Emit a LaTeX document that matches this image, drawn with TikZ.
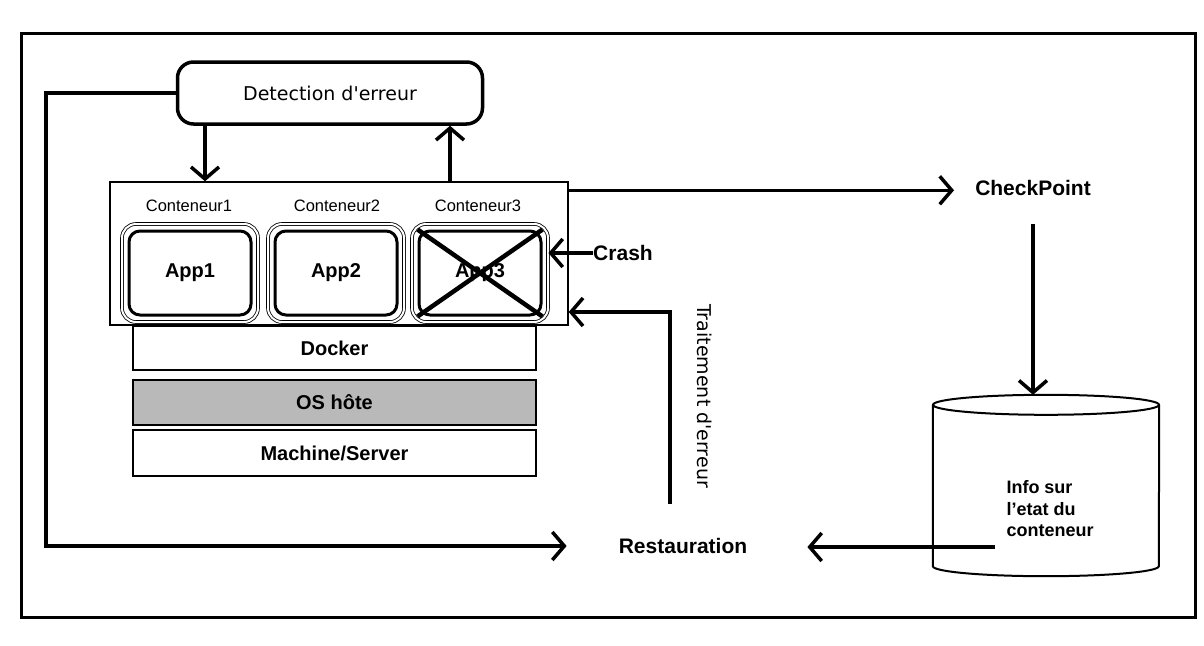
\documentclass[tikz,border=0pt]{standalone}
\usepackage{fontspec}
\setmainfont{Liberation Sans}
\newfontfamily\dvsans{DejaVu Sans}
\usetikzlibrary{arrows.meta}
\begin{document}
\begin{tikzpicture}[x=1pt,y=-1pt,
  conn/.style={line width=3.5pt,-{Straight Barb[length=12pt,width=28pt]}},
  boldlbl/.style={inner sep=0pt,font=\bfseries\fontsize{21}{25}\selectfont},
  contlbl/.style={inner sep=0pt,font=\fontsize{16.5}{20}\selectfont},
  layer/.style={draw,line width=2.8pt,minimum width=403pt,inner sep=0pt,font=\bfseries\fontsize{20}{24}\selectfont},
  appouter/.style={draw,double,double distance=2pt,line width=0.8pt,rounded corners=14pt,minimum width=136pt,minimum height=98pt,inner sep=0pt},
  appinner/.style={draw,line width=3pt,rounded corners=11pt,minimum width=122pt,minimum height=84pt,inner sep=0pt,font=\bfseries\fontsize{20}{24}\selectfont},
  detbox/.style={draw,line width=3.5pt,rounded corners=16pt,minimum width=305pt,minimum height=62pt,inner sep=0pt,font=\dvsans\fontsize{19}{23}\selectfont},
  vlbl/.style={inner sep=0pt,font=\dvsans\fontsize{19}{23}\selectfont},
  cylst/.style={line width=2pt}]
\useasboundingbox (0,0) rectangle (1204,645);
% outer frame
\draw[line width=3pt] (21,33) rectangle (1195,617);

% layers
\node[layer,minimum height=44pt] (docker) at (334.5,348) {Docker};
\node[layer,minimum height=45pt,fill=gray!55] (os) at (334.5,402.5) {OS hôte};
\node[layer,minimum height=46pt] (machine) at (334.5,453) {Machine/Server};

% container group
\node[draw,line width=1.4pt,fill=white,minimum width=458pt,minimum height=143pt,inner sep=0pt] (cont) at (339,253.5) {};
\node[contlbl] (c1) at (189,206) {Conteneur1};
\node[contlbl] (c2) at (337,206) {Conteneur2};
\node[contlbl] (c3) at (478,206) {Conteneur3};
\node[appouter] (app1o) at (190,273) {};
\node[appinner] (app1) at (190,273) {App1};
\node[appouter] (app2o) at (336,273) {};
\node[appinner] (app2) at (336,273) {App2};
\node[appouter] (app3o) at (480,273) {};
\node[appinner] (app3) at (480,273) {App3};
\draw[line width=4.5pt] (app3.north west) -- (app3.south east);
\draw[line width=4.5pt] (app3.north east) -- (app3.south west);

% detection
\node[detbox] (det) at (330,93) {Detection d'erreur};
\draw[conn] ([xshift=-125pt]det.south) -- ([xshift=-125pt]det.south |- cont.north);
\draw[conn] ([xshift=120pt]det.south |- cont.north) -- ([xshift=120pt]det.south);

% crash
\node[boldlbl] (crash) at (623,253) {Crash};
\draw[conn] (crash.west) -- (crash.west -| app3o.east);

% restauration and loop
\node[boldlbl] (rest) at (683,546) {Restauration};
\coordinate (lc) at (46,546);
\draw[conn,shorten >=52pt] (det.west) -| (lc) -- (lc -| rest.west);

% traitement d'erreur
\coordinate (tstart) at (670,504);
\coordinate (tcorner) at (670,312);
\draw[conn] (tstart) -- (tcorner) -- (tcorner -| cont.east);
\node[vlbl,rotate=-90] (trait) at (705,396) {Traitement d'erreur};

% checkpoint
\node[boldlbl] (cp) at (1033,188) {CheckPoint};
\coordinate (cpstart) at ([yshift=-9pt]cont.north east);
\draw[conn,shorten >=21pt] (cpstart) -- (cpstart -| cp.west);

% storage (cylinder)
\node[minimum width=226pt,minimum height=181pt,inner sep=0pt] (cyl) at (1046,485.5) {};
\draw[cylst] ([yshift=-10pt]cyl.north west) -- ([yshift=10pt]cyl.south west)
   arc[start angle=180,end angle=360,x radius=113pt,y radius=10pt]
   -- ([yshift=-10pt]cyl.north east);
\draw[cylst] ([yshift=-10pt]cyl.north) ellipse[x radius=113pt,y radius=10pt];
\node[inner sep=0pt,align=left,font=\bfseries\fontsize{18}{21.5}\selectfont] (info) at (1050,509) {Info sur\\l'etat du\\conteneur};
\draw[conn,shorten <=28pt] (cp.south) -- (cp.south |- cyl.north);
\coordinate (csrc) at (995,547);
\draw[conn,shorten >=60pt] (csrc) -- (csrc -| rest.east);
\end{tikzpicture}
\end{document}
